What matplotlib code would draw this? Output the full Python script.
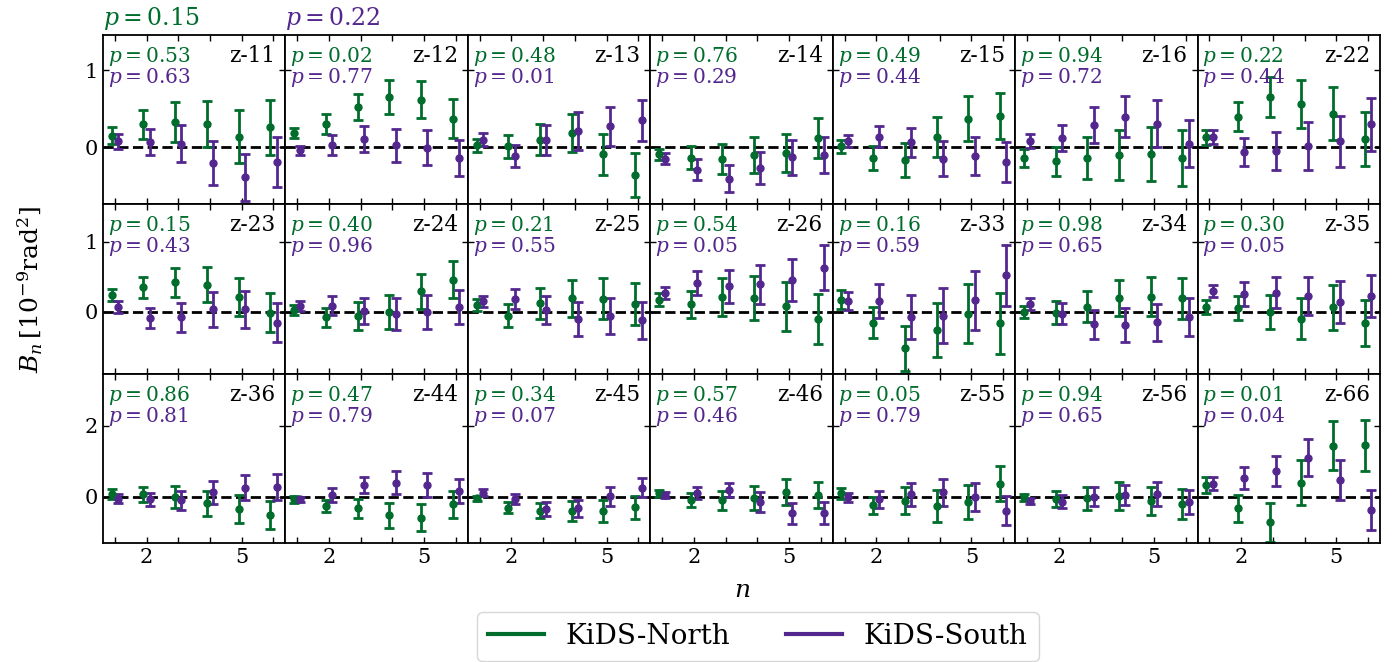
import matplotlib
matplotlib.use("Agg")
import matplotlib.pyplot as plt
from matplotlib.lines import Line2D
import numpy as np

plt.rcParams['font.family'] = 'DejaVu Serif'
plt.rcParams['mathtext.fontset'] = 'dejavuserif'

green = '#006d2c'
purple = '#54278f'

n = np.arange(1, 7)

bins = ['z-11', 'z-12', 'z-13', 'z-14', 'z-15', 'z-16', 'z-22',
        'z-23', 'z-24', 'z-25', 'z-26', 'z-33', 'z-34', 'z-35',
        'z-36', 'z-44', 'z-45', 'z-46', 'z-55', 'z-56', 'z-66']

p_north = ['0.53', '0.02', '0.48', '0.76', '0.49', '0.94', '0.22',
           '0.15', '0.40', '0.21', '0.54', '0.16', '0.98', '0.30',
           '0.86', '0.47', '0.34', '0.57', '0.05', '0.94', '0.01']
p_south = ['0.63', '0.77', '0.01', '0.29', '0.44', '0.72', '0.44',
           '0.43', '0.96', '0.55', '0.05', '0.59', '0.65', '0.05',
           '0.81', '0.79', '0.07', '0.46', '0.79', '0.65', '0.04']
p_total = ['0.15', '0.22']

# B-modes, KiDS-North
north_B = [
    [0.15, 0.30, 0.33, 0.30, 0.14, 0.26],
    [0.185, 0.30, 0.52, 0.66, 0.62, 0.375],
    [0.025, 0.017, 0.10, 0.19, -0.09, -0.36],
    [-0.09, -0.135, -0.15, -0.10, -0.075, 0.12],
    [0.017, -0.14, -0.16, 0.14, 0.375, 0.41],
    [-0.14, -0.18, -0.14, -0.10, -0.09, -0.14],
    [0.13, 0.40, 0.65, 0.565, 0.435, 0.11],
    [0.24, 0.35, 0.42, 0.385, 0.205, -0.01],
    [0.03, -0.075, -0.065, 0.0, 0.295, 0.46],
    [0.10, -0.055, 0.125, 0.195, 0.185, 0.115],
    [0.175, 0.105, 0.21, 0.195, 0.08, -0.10],
    [0.175, -0.155, -0.52, -0.26, -0.03, -0.16],
    [0.0, -0.01, 0.075, 0.20, 0.215, 0.19],
    [0.065, 0.055, 0.0, -0.095, 0.065, -0.155],
    [0.085, 0.075, 0.0, -0.19, -0.34, -0.52],
    [-0.075, -0.25, -0.33, -0.525, -0.59, -0.215],
    [-0.045, -0.31, -0.39, -0.39, -0.40, -0.30],
    [0.095, -0.085, -0.095, -0.03, 0.14, 0.05],
    [0.095, -0.245, -0.11, -0.26, -0.16, 0.365],
    [-0.01, -0.075, -0.045, 0.02, -0.13, -0.215],
    [0.33, -0.33, -0.715, 0.395, 1.435, 1.445],
]
north_err = [
    [0.11, 0.19, 0.26, 0.30, 0.34, 0.355],
    [0.065, 0.13, 0.17, 0.22, 0.24, 0.25],
    [0.08, 0.15, 0.20, 0.25, 0.27, 0.29],
    [0.07, 0.15, 0.19, 0.235, 0.25, 0.26],
    [0.085, 0.16, 0.22, 0.26, 0.29, 0.295],
    [0.12, 0.19, 0.27, 0.32, 0.35, 0.36],
    [0.095, 0.185, 0.26, 0.315, 0.345, 0.35],
    [0.08, 0.15, 0.205, 0.25, 0.27, 0.275],
    [0.07, 0.135, 0.20, 0.24, 0.25, 0.265],
    [0.085, 0.16, 0.22, 0.265, 0.29, 0.30],
    [0.09, 0.19, 0.27, 0.315, 0.35, 0.355],
    [0.13, 0.22, 0.32, 0.385, 0.42, 0.435],
    [0.085, 0.16, 0.22, 0.26, 0.28, 0.285],
    [0.10, 0.175, 0.24, 0.29, 0.32, 0.33],
    [0.135, 0.21, 0.31, 0.34, 0.39, 0.40],
    [0.09, 0.17, 0.27, 0.345, 0.385, 0.37],
    [0.075, 0.16, 0.21, 0.28, 0.31, 0.33],
    [0.095, 0.19, 0.27, 0.33, 0.36, 0.375],
    [0.16, 0.25, 0.37, 0.45, 0.48, 0.49],
    [0.10, 0.225, 0.32, 0.395, 0.395, 0.42],
    [0.235, 0.385, 0.545, 0.64, 0.69, 0.715],
]

# B-modes, KiDS-South
south_B = [
    [0.08, 0.07, 0.05, -0.20, -0.39, -0.19],
    [-0.04, 0.035, 0.11, 0.025, -0.005, -0.135],
    [0.10, -0.11, 0.095, 0.215, 0.275, 0.35],
    [-0.145, -0.29, -0.405, -0.27, -0.13, -0.095],
    [0.086, 0.14, 0.065, -0.145, -0.11, -0.19],
    [0.08, 0.12, 0.29, 0.40, 0.31, 0.05],
    [0.13, -0.06, -0.05, 0.02, 0.08, 0.30],
    [0.07, -0.09, -0.08, 0.035, 0.035, -0.155],
    [0.085, 0.085, 0.01, -0.03, -0.005, 0.07],
    [0.15, 0.185, 0.03, -0.105, -0.065, -0.12],
    [0.27, 0.415, 0.365, 0.39, 0.45, 0.63],
    [0.15, 0.155, -0.075, -0.055, 0.165, 0.52],
    [0.11, -0.025, -0.18, -0.19, -0.15, -0.07],
    [0.295, 0.255, 0.275, 0.22, 0.14, 0.22],
    [-0.05, -0.075, -0.095, 0.12, 0.255, 0.27],
    [-0.075, 0.05, 0.33, 0.40, 0.33, 0.17],
    [0.11, -0.075, -0.345, -0.33, 0.01, 0.255],
    [0.05, 0.105, 0.18, -0.14, -0.47, -0.45],
    [-0.02, -0.075, 0.065, 0.12, -0.01, -0.395],
    [-0.12, -0.14, 0.0, 0.045, 0.075, -0.15],
    [0.365, 0.515, 0.715, 1.10, 0.46, -0.375],
]
south_err = [
    [0.10, 0.17, 0.24, 0.285, 0.31, 0.32],
    [0.06, 0.13, 0.17, 0.21, 0.225, 0.235],
    [0.085, 0.145, 0.195, 0.245, 0.255, 0.27],
    [0.07, 0.135, 0.175, 0.21, 0.23, 0.235],
    [0.08, 0.14, 0.19, 0.23, 0.25, 0.26],
    [0.09, 0.17, 0.23, 0.27, 0.30, 0.31],
    [0.09, 0.185, 0.25, 0.31, 0.33, 0.345],
    [0.09, 0.145, 0.20, 0.245, 0.265, 0.275],
    [0.07, 0.135, 0.185, 0.225, 0.24, 0.245],
    [0.08, 0.145, 0.20, 0.24, 0.255, 0.265],
    [0.09, 0.17, 0.235, 0.28, 0.30, 0.315],
    [0.13, 0.24, 0.315, 0.39, 0.42, 0.43],
    [0.08, 0.15, 0.20, 0.245, 0.26, 0.27],
    [0.09, 0.165, 0.225, 0.27, 0.295, 0.30],
    [0.12, 0.19, 0.27, 0.325, 0.345, 0.36],
    [0.08, 0.19, 0.235, 0.31, 0.33, 0.34],
    [0.095, 0.14, 0.20, 0.245, 0.265, 0.27],
    [0.08, 0.18, 0.20, 0.28, 0.30, 0.31],
    [0.125, 0.23, 0.33, 0.375, 0.405, 0.41],
    [0.095, 0.19, 0.26, 0.29, 0.34, 0.345],
    [0.18, 0.31, 0.42, 0.51, 0.565, 0.57],
]

row_ylim = [(-0.74, 1.46), (-0.88, 1.53), (-1.30, 3.46)]
row_yticks = [[0, 1], [0, 1], [0, 2]]

fig, axes = plt.subplots(3, 7, figsize=(13.97, 6.62), dpi=100,
                         sharex=True, sharey='row')
fig.subplots_adjust(left=0.0737, right=0.9878, top=0.9471, bottom=0.1798,
                    wspace=0, hspace=0)

ebkw = dict(fmt='o', ms=5, elinewidth=2, capsize=3.5, capthick=2)

for i, ax in enumerate(axes.flat):
    row = i // 7
    ax.axhline(0, color='k', ls='--', lw=2, zorder=0)
    ax.errorbar(n - 0.1, north_B[i], yerr=north_err[i], color=green, **ebkw)
    ax.errorbar(n + 0.1, south_B[i], yerr=south_err[i], color=purple, **ebkw)

    ax.text(0.027, 0.84, r'$p = %s$' % p_north[i], color=green,
            transform=ax.transAxes, fontsize=14.5, va='baseline')
    ax.text(0.027, 0.717, r'$p = %s$' % p_south[i], color=purple,
            transform=ax.transAxes, fontsize=14.5, va='baseline')
    ax.text(0.945, 0.84, bins[i], transform=ax.transAxes, fontsize=15.5,
            ha='right', va='baseline')

    ax.set_xlim(0.625, 6.375)
    ax.set_xticks(n)
    ax.set_xticklabels(['', '2', '', '', '5', ''])
    ax.set_ylim(*row_ylim[row])
    ax.set_yticks(row_yticks[row])
    ax.tick_params(direction='in', top=True, right=True, labelsize=15,
                   width=1, length=4.5)
    for sp in ax.spines.values():
        sp.set_linewidth(1.3)

axes[0, 0].text(0.0, 1.06, r'$p = %s$' % p_total[0], color=green,
                transform=axes[0, 0].transAxes, fontsize=17, va='baseline')
axes[0, 1].text(0.0, 1.06, r'$p = %s$' % p_total[1], color=purple,
                transform=axes[0, 1].transAxes, fontsize=17, va='baseline')

fig.text(0.531, 0.108, r'$n$', fontsize=18, ha='center', va='center')
fig.text(0.022, 0.563, r'$B_n\,[10^{-9}{\rm rad}^2]$', fontsize=18,
         rotation=90, ha='center', va='center')

handles = [Line2D([], [], color=green, lw=3),
           Line2D([], [], color=purple, lw=3)]
fig.legend(handles, ['KiDS-North', 'KiDS-South'], loc='upper center',
           bbox_to_anchor=(0.5426, 0.0755), ncol=2, fontsize=20,
           borderaxespad=0)

fig.savefig('out.png', dpi=100)
